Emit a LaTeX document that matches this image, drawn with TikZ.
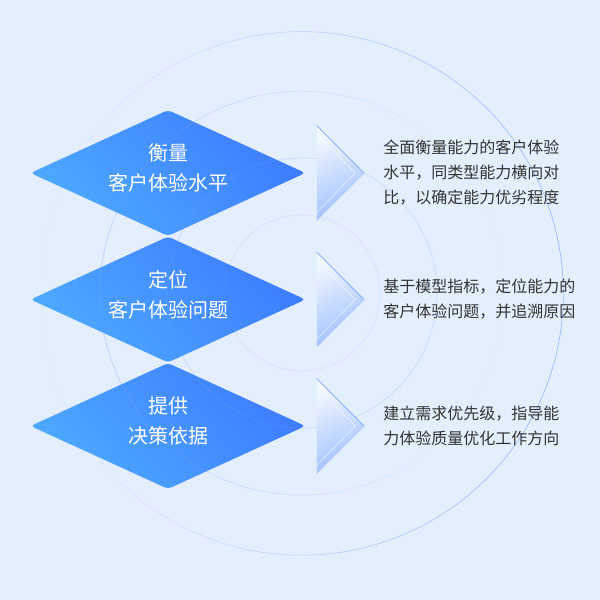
\documentclass[tikz,border=0pt]{standalone}
\usepackage{fontspec}
\setmainfont{Noto Sans CJK SC}
\usetikzlibrary{positioning,shapes.geometric,fadings}

\definecolor{bgblue}{HTML}{E4EFFD}
\definecolor{darkblue}{HTML}{3D7DFF}
\definecolor{lightblue}{HTML}{4DA9FF}
\definecolor{ringblue}{HTML}{7AA6FF}
\definecolor{chevblue}{HTML}{9EC0FF}
\definecolor{textgray}{HTML}{333333}

\tikzstyle{diamondblock} = [diamond, minimum width=275pt, minimum height=126pt, inner sep=0pt, rounded corners=4pt, top color=darkblue, bottom color=lightblue, shading angle=-50]
\tikzstyle{titletext} = [text=white, align=center, font=\fontsize{20}{30}\selectfont, inner sep=0pt]
\tikzstyle{desctext} = [text=textgray, align=left, font=\fontsize{16}{25}\selectfont, inner sep=0pt]
\tikzstyle{chevron} = [isosceles triangle, isosceles triangle apex angle=90, minimum height=47pt, inner sep=0pt, top color=bgblue!50!white, bottom color=chevblue, shading angle=25]
\tikzstyle{chevline} = [draw=ringblue, line width=0.7pt]
\tikzstyle{innerline} = [draw=white, line width=0.8pt, draw opacity=0.5]
\tikzstyle{ring} = [draw=ringblue, line width=0.6pt]

\begin{document}
\begin{tikzpicture}[x=1pt, y=-1pt, node distance=126.5pt]
    \fill[bgblue] (0,0) rectangle (600,600);
    \useasboundingbox (0,0) rectangle (600,600);

    % diamonds
    \node[diamondblock] (d1) at (168,173) {};
    \node[diamondblock, below of=d1] (d2) {};
    \node[diamondblock, below of=d2] (d3) {};

    % rings
    \draw[ring, path fading=west, draw opacity=0.8] (302,293) circle[radius=262pt];
    \draw[ring, path fading=east, draw opacity=0.45] (302,293) circle[radius=202pt];
    \draw[ring, draw opacity=0.3] (302,293) circle[radius=135pt];
    \draw[ring, draw opacity=0.18] (302,293) circle[radius=78pt];

    % titles
    \node[titletext] (t1) at ([yshift=5pt]d1.center) {衡量\\客户体验水平};
    \node[titletext] (t2) at ([yshift=5pt]d2.center) {定位\\客户体验问题};
    \node[titletext] (t3) at ([yshift=5pt]d3.center) {提供\\决策依据};

    % arrows
    \node[chevron, right=11pt of d1] (c1) {};
    \node[chevron, right=11pt of d2] (c2) {};
    \node[chevron, right=11pt of d3] (c3) {};
    \draw[innerline] ([yshift=-8pt]c1.left corner) -- ([xshift=-9pt]c1.apex) -- ([yshift=8pt]c1.right corner);
    \draw[innerline] ([yshift=-8pt]c2.left corner) -- ([xshift=-9pt]c2.apex) -- ([yshift=8pt]c2.right corner);
    \draw[innerline] ([yshift=-8pt]c3.left corner) -- ([xshift=-9pt]c3.apex) -- ([yshift=8pt]c3.right corner);
    \draw[chevline] (c1.left corner) -- (c1.apex);
    \draw[chevline, draw opacity=0.4] (c1.apex) -- (c1.right corner);
    \draw[chevline] (c2.left corner) -- (c2.apex);
    \draw[chevline, draw opacity=0.4] (c2.apex) -- (c2.right corner);
    \draw[chevline] (c3.left corner) -- (c3.apex);
    \draw[chevline, draw opacity=0.4] (c3.apex) -- (c3.right corner);

    % texts
    \node[desctext, right=19pt of c1] (s1) {全面衡量能力的客户体验\\水平，同类型能力横向对\\比，以确定能力优劣程度};
    \node[desctext, right=19pt of c2] (s2) {基于模型指标，定位能力的\\客户体验问题，并追溯原因};
    \node[desctext, right=19pt of c3] (s3) {建立需求优先级，指导能\\力体验质量优化工作方向};
\end{tikzpicture}
\end{document}
